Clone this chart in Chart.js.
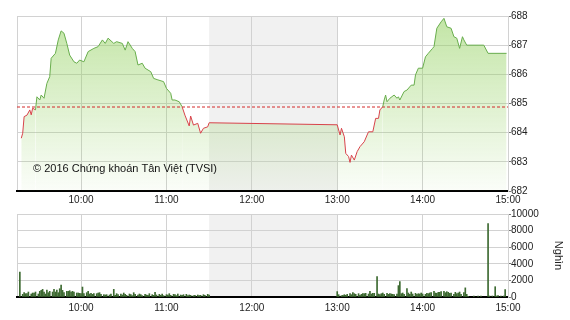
<!DOCTYPE html>
<html>
<head>
<meta charset="utf-8">
<script src="https://cdn.jsdelivr.net/npm/chart.js@4.4.0/dist/chart.umd.min.js"></script>
<style>
html, body { margin: 0; padding: 0; background: #fff; }
#wrap { position: relative; width: 570px; height: 320px; overflow: hidden; }
canvas { position: absolute; left: 0; }
#priceChart { top: 0; }
#volChart { top: 205px; }
</style>
</head>
<body>
<div id="wrap">
    <canvas id="priceChart" width="570" height="210"></canvas>
    <canvas id="volChart" width="570" height="115"></canvas>
</div>
<script>
// --- data ---
const priceTimes = [
    '9:18', '9:19', '9:20', '9:22', '9:24', '9:25', '9:26', '9:28', '9:29', '9:31',
    '9:32', '9:34', '9:36', '9:38', '9:39', '9:42', '9:44', '9:46', '9:48', '9:50',
    '9:52', '9:55', '9:57', '9:59', '10:02', '10:05', '10:09', '10:12', '10:15', '10:17',
    '10:19', '10:23', '10:25', '10:29', '10:31', '10:33', '10:36', '10:38', '10:40', '10:43',
    '10:45', '10:49', '10:51', '10:54', '10:58', '11:00', '11:03', '11:04', '11:06', '11:09',
    '11:11', '11:13', '11:16', '11:17', '11:19', '11:22', '11:24', '11:26', '11:29', '11:30',
    '13:00', '13:02', '13:03', '13:05', '13:06', '13:08', '13:09', '13:10', '13:12', '13:14',
    '13:16', '13:19', '13:21', '13:22', '13:25', '13:27', '13:29', '13:30', '13:32', '13:33',
    '13:34', '13:35', '13:37', '13:40', '13:42', '13:43', '13:44', '13:47', '13:49', '13:52',
    '13:54', '13:55', '13:57', '14:00', '14:02', '14:04', '14:07', '14:08', '14:10', '14:13',
    '14:15', '14:17', '14:20', '14:22', '14:24', '14:26', '14:28', '14:29', '14:31', '14:43',
    '14:46', '14:59'
];
const priceValues = [
    683.81, 683.98, 684.55, 684.60, 684.78, 684.61, 684.84, 684.78, 685.23, 685.12,
    685.29, 685.18, 685.69, 685.92, 686.55, 686.72, 687.18, 687.49, 687.41, 687.06,
    686.66, 686.43, 686.38, 686.49, 686.43, 686.78, 686.89, 686.95, 687.18, 687.06,
    687.24, 687.06, 687.12, 687.06, 686.83, 687.12, 686.89, 686.78, 686.32, 686.38,
    686.21, 686.09, 685.86, 685.81, 685.75, 685.52, 685.35, 685.12, 685.12, 685.06,
    684.89, 684.60, 684.23, 684.57, 684.26, 684.32, 683.98, 684.15, 684.20, 684.34,
    684.27, 683.92, 684.15, 683.86, 683.29, 683.18, 682.98, 683.23, 683.06, 683.35,
    683.52, 683.69, 683.92, 684.03, 684.03, 684.49, 684.49, 684.78, 684.89, 685.12,
    685.29, 685.06, 685.18, 685.29, 685.18, 685.23, 685.12, 685.41, 685.46, 685.63,
    685.63, 685.98, 686.21, 686.21, 686.60, 686.72, 686.89, 686.95, 687.58, 687.80,
    687.92, 687.63, 687.58, 687.29, 687.24, 686.89, 687.29, 687.18, 687.00, 687.00,
    686.72, 686.72
];
const refPrice = 684.88;

// volume per minute (thousand shares), 0 = no trade in that minute
const volMorningStart = '9:17';
const volMorning = [
    3000, 0, 320, 520, 400, 400, 600, 0, 360, 480, 480, 600, 0, 360, 680, 800, 920, 600, 360, 840,
    520, 680, 0, 600, 920, 600, 840, 520, 1000, 1450, 800, 520, 0, 680, 680, 760, 600, 680, 600, 0,
    480, 480, 440, 400, 1200, 400, 0, 520, 680, 360, 440, 320, 400, 0, 400, 480, 520, 320, 0, 280,
    240, 280, 0, 240, 360, 0, 920, 200, 400, 280, 0, 360, 240, 480, 320, 200, 0, 360, 280, 160,
    520, 320, 0, 240, 360, 280, 160, 0, 320, 240, 200, 400, 0, 280, 200, 560, 240, 0, 320, 200,
    360, 160, 0, 280, 240, 400, 200, 0, 320, 280, 160, 360, 0, 240, 200, 280, 0, 320, 160, 240,
    200, 0, 160, 200, 0, 240, 160, 200, 0, 280, 200, 0, 320, 240
];
const volAfternoonStart = '13:00';
const volAfternoon = [
    650, 280, 0, 160, 200, 280, 200, 320, 0, 400, 280, 520, 400, 320, 0, 400, 200, 320, 400, 400,
    440, 0, 360, 680, 360, 440, 440, 0, 2450, 360, 280, 400, 480, 320, 0, 440, 320, 400, 360, 320,
    280, 0, 360, 1370, 1850, 400, 480, 320, 0, 1000, 480, 320, 600, 360, 0, 440, 320, 400, 360, 480,
    360, 0, 320, 440, 400, 480, 520, 0, 680, 480, 440, 560, 560, 640, 0, 680, 520, 640, 560, 440,
    480, 0, 320, 560, 400, 480, 600, 320, 0, 520, 1100, 320, 80, 0, 0, 0, 120, 0, 0, 120,
    0, 120, 0, 0, 0, 0, 8850, 120, 0, 120, 0, 1240, 120, 160, 0, 120, 0, 120, 900
];

const hourTicks = ['9:15', '10:00', '11:00', '12:00', '13:00', '14:00', '15:00'];
const priceTicks = [682, 683, 684, 685, 686, 687, 688];
const volTicks = [0, 2000, 4000, 6000, 8000, 10000];
const lunchBreak = ['11:30', '13:00'];
const copyrightText = '© 2016 Chứng khoán Tân Việt (TVSI)';
const volUnit = 'Nghìn';

// --- helpers ---
const toMin = (t) => {
    const [h, m] = t.split(':').map(Number);
    return h * 60 + m;
};
const fmtTime = (v) => {
    const h = Math.floor(v / 60);
    const m = v % 60;
    return String(h).padStart(2, '0') + ':' + String(m).padStart(2, '0');
};

const GREEN = '#68ad4c';
const RED = '#d8434b';
const GRID = '#d2d2d2';
const TEXT = '#222';

Chart.defaults.font.family = '"Liberation Sans", Arial, sans-serif';
Chart.defaults.font.size = 10;
Chart.defaults.color = TEXT;

const xMin = toMin(hourTicks[0]);
const xMax = toMin(hourTicks[hourTicks.length - 1]);

function timeAxis(height, padding) {
    return {
        type: 'linear',
        offset: false,
        min: xMin,
        max: xMax,
        afterBuildTicks: (scale) => {
            scale.ticks = hourTicks.map(t => ({ value: toMin(t) }));
        },
        afterFit: (scale) => { scale.height = height; },
        grid: { color: GRID, drawTicks: false, offset: false },
        border: { color: '#000', width: 2 },
        ticks: {
            autoSkip: false,
            maxRotation: 0,
            padding: padding,
            callback: (v) => (v === xMin ? '' : fmtTime(v)),
        },
    };
}

function valueAxis(ticks) {
    return {
        position: 'right',
        min: ticks[0],
        max: ticks[ticks.length - 1],
        afterBuildTicks: (scale) => {
            scale.ticks = ticks.map(v => ({ value: v }));
        },
        afterFit: (scale) => { scale.width = 62; },
        grid: { color: GRID, tickLength: 3, tickColor: '#777' },
        border: { color: GRID },
        ticks: { padding: 0, callback: (v) => String(v) },
    };
}

const lunchBand = {
    id: 'lunchBand',
    beforeDraw: (chart) => {
        const { ctx, chartArea, scales } = chart;
        const x0 = scales.x.getPixelForValue(toMin(lunchBreak[0]));
        const x1 = scales.x.getPixelForValue(toMin(lunchBreak[1]));
        ctx.save();
        ctx.fillStyle = '#f1f1f1';
        ctx.fillRect(x0, chartArea.top, x1 - x0, chartArea.bottom - chartArea.top);
        ctx.restore();
    }
};

const copyright = {
    id: 'copyright',
    afterDatasetsDraw: (chart) => {
        const ctx = chart.ctx;
        ctx.save();
        ctx.fillStyle = '#111';
        ctx.font = '11px "Liberation Sans", Arial, sans-serif';
        ctx.textAlign = 'left';
        ctx.textBaseline = 'middle';
        ctx.fillText(copyrightText, 33, 169);
        ctx.restore();
    }
};

// --- price chart ---
const priceCtx = document.getElementById('priceChart').getContext('2d');
new Chart(priceCtx, {
    type: 'line',
    data: {
        datasets: [
            {
                data: priceTimes.map((t, i) => ({ x: toMin(t), y: priceValues[i] })),
                borderWidth: 1,
                pointRadius: 0,
                tension: 0,
                fill: 'start',
                backgroundColor: (c) => {
                    const area = c.chart.chartArea;
                    if (!area) return 'rgba(150,210,100,0.4)';
                    const g = c.chart.ctx.createLinearGradient(0, area.top, 0, area.bottom);
                    g.addColorStop(0, 'rgba(150,210,100,0.58)');
                    g.addColorStop(1, 'rgba(150,210,100,0.04)');
                    return g;
                },
                segment: {
                    borderColor: (s) => ((s.p0.parsed.y + s.p1.parsed.y) / 2 >= refPrice ? GREEN : RED),
                },
                borderColor: GREEN,
            },
            {
                data: [{ x: xMin, y: refPrice }, { x: xMax, y: refPrice }],
                borderColor: '#d42a2a',
                borderWidth: 1,
                borderDash: [3, 2],
                pointRadius: 0,
                fill: false,
            }
        ]
    },
    options: {
        responsive: false,
        animation: false,
        devicePixelRatio: 1,
        layout: { padding: { left: 17, top: 16, right: 0, bottom: 0 } },
        scales: {
            x: timeAxis(19, 3),
            y: valueAxis(priceTicks),
        },
        plugins: {
            legend: { display: false },
            tooltip: { enabled: false },
            filler: { drawTime: 'beforeDatasetsDraw' },
        }
    },
    plugins: [lunchBand, copyright]
});

// --- volume chart ---
const volData = [];
volMorning.forEach((v, i) => { if (v > 0) volData.push({ x: toMin(volMorningStart) + i, y: v }); });
volAfternoon.forEach((v, i) => { if (v > 0) volData.push({ x: toMin(volAfternoonStart) + i, y: v }); });

const volAxis = valueAxis(volTicks);
volAxis.title = {
    display: true,
    text: volUnit,
    color: TEXT,
    font: { size: 11 },
    padding: { top: 5, bottom: 0 },
};

const volCtx = document.getElementById('volChart').getContext('2d');
new Chart(volCtx, {
    type: 'bar',
    data: {
        datasets: [{
            data: volData,
            backgroundColor: '#3d6a31',
            barThickness: 1,
        }]
    },
    options: {
        responsive: false,
        animation: false,
        devicePixelRatio: 1,
        layout: { padding: { left: 17, top: 9, right: 0, bottom: 0 } },
        scales: {
            x: timeAxis(23, 5),
            y: volAxis,
        },
        plugins: {
            legend: { display: false },
            tooltip: { enabled: false },
        }
    },
    plugins: [lunchBand]
});
</script>
</body>
</html>
